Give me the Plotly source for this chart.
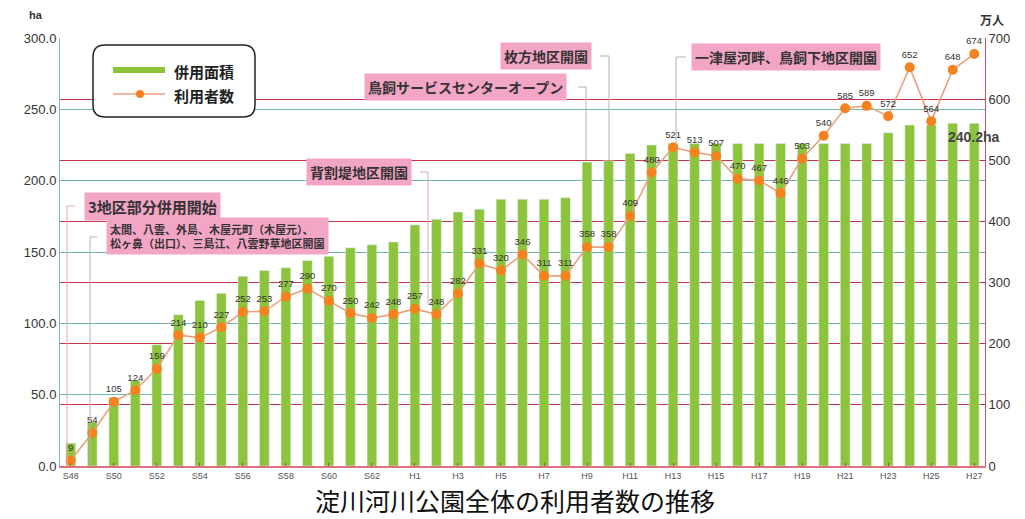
import plotly.graph_objects as go

years = [f"S{n}" for n in range(48, 64)] + [f"H{n}" for n in range(1, 28)]

area_ha = [16, 31, 48, 60, 85, 106, 116, 121, 133, 137, 139, 144, 147, 153, 155, 157,
           169, 173, 178, 180, 187, 187, 187, 188, 213, 214, 219, 225, 226,
           226, 226, 226, 226, 226, 226, 226, 226, 226, 233.6, 239, 239, 240.2, 240.2]

visitors = [9, 54, 105, 124, 159, 214, 210, 227, 252, 253, 277, 290, 270, 250, 242, 248,
            257, 248, 282, 331, 320, 346, 311, 311, 358, 358, 409, 480, 521, 513, 507,
            470, 467, 446, 503, 540, 585, 589, 572, 652, 564, 648, 674]

JP = "Noto Sans CJK JP"
SANS = "Liberation Sans"

# plot area in pixels
L, R, T, B = 60, 985, 38, 466
W, H = 1025, 519


def px(x):
    return (x - L) / (R - L)


def py(y):
    return (B - y) / (B - T)


fig = go.Figure()
fig.add_trace(go.Bar(x=years, y=area_ha, marker_color="#8cc43c", width=0.45,
                     name="併用面積", showlegend=False, yaxis="y"))
fig.add_trace(go.Scatter(x=years, y=visitors, yaxis="y2", mode="lines+markers+text",
                         line=dict(color="#e8a27a", width=1.6),
                         marker=dict(color="#f5821f", size=10),
                         text=[str(v) for v in visitors], textposition="top center",
                         textfont=dict(family=SANS, size=9.5, color="#333"),
                         name="利用者数", showlegend=False, cliponaxis=False))

shapes = []
annotations = []


def note(text, x, y, size, family=JP, color="#222", xanchor="center", **kw):
    annotations.append(dict(xref="paper", yref="paper", x=px(x), y=py(y), text=text,
                            showarrow=False, xanchor=xanchor, yanchor="middle",
                            font=dict(family=family, size=size, color=color), **kw))


def poly(points, color, width=1):
    d = "M " + " L ".join(f"{px(x)},{py(y)}" for x, y in points)
    shapes.append(dict(type="path", xref="paper", yref="paper", path=d,
                       line=dict(color=color, width=width), layer="above"))


def pinkbox(text, cx, cy, size=15):
    note(text, cx, cy, size, color="#333", bgcolor="#f3a5c5", borderpad=3, align="left")


# event callouts
poly([(75, 206), (67, 206), (67, 466)], "#f0a0b8")
poly([(97, 237), (90, 237), (90, 466)], "#b0b0b0")
poly([(420, 172), (428, 172), (428, 305)], "#d8a8b8")
poly([(578, 87), (586, 87), (586, 160)], "#b0b0b0")
poly([(600, 56), (609, 56), (609, 160)], "#b0b0b0")
poly([(686, 57), (676, 57), (676, 143)], "#b0b0b0")

pinkbox("<b>3地区部分併用開始</b>", 152, 206, 15)
pinkbox("<b>太間、八雲、外島、木屋元町（木屋元）、<br>松ヶ鼻（出口）、三島江、八雲野草地区開園</b>", 217, 236, 11)
pinkbox("<b>背割堤地区開園</b>", 359, 172, 14)
pinkbox("<b>鳥飼サービスセンターオープン</b>", 465, 87, 14)
pinkbox("<b>枚方地区開園</b>", 546, 56, 14)
pinkbox("<b>一津屋河畔、鳥飼下地区開園</b>", 786, 57, 14)

# legend box (rounded)
x0, x1, y0, y1, r = 93, 255, 45, 117, 12
rx, ry = r / (R - L), r / (B - T)
X0, X1, Y0, Y1 = px(x0), px(x1), py(y1), py(y0)
path = (f"M {X0+rx},{Y1} L {X1-rx},{Y1} Q {X1},{Y1} {X1},{Y1-ry} "
        f"L {X1},{Y0+ry} Q {X1},{Y0} {X1-rx},{Y0} L {X0+rx},{Y0} "
        f"Q {X0},{Y0} {X0},{Y0+ry} L {X0},{Y1-ry} Q {X0},{Y1} {X0+rx},{Y1} Z")
shapes.append(dict(type="path", xref="paper", yref="paper", path=path,
                   fillcolor="white", line=dict(color="#222", width=1.5), layer="above"))
shapes.append(dict(type="line", xref="paper", yref="paper", x0=px(113), x1=px(165),
                   y0=py(70), y1=py(70), line=dict(color="#8cc43c", width=6), layer="above"))
shapes.append(dict(type="line", xref="paper", yref="paper", x0=px(113), x1=px(165),
                   y0=py(94), y1=py(94), line=dict(color="#e8a27a", width=1.5), layer="above"))
shapes.append(dict(type="circle", xref="paper", yref="paper", x0=px(136), x1=px(144),
                   y0=py(98), y1=py(90), fillcolor="#f5821f", line=dict(width=0), layer="above"))
note("<b>併用面積</b>", 172, 71, 15, xanchor="left")
note("<b>利用者数</b>", 172, 95, 15, xanchor="left")

# axis unit labels
note("<b>ha</b>", 36, 15, 11, family=SANS, color="#333")
note("<b>万人</b>", 992, 19, 12, color="#333")

# last value annotation
annotations.append(dict(x=len(years) - 1, y=area_ha[-1], xref="x", yref="y",
                        text=f"<b>{area_ha[-1]}ha</b>", showarrow=False, yanchor="top",
                        xanchor="center", yshift=-4,
                        font=dict(family=SANS, size=14, color="#444")))
# title
note("淀川河川公園全体の利用者数の推移", 515, 500, 25, color="#111")

fig.update_layout(
    width=W, height=H,
    margin=dict(l=L, r=W - R, t=T, b=H - B),
    plot_bgcolor="white", paper_bgcolor="white",
    bargap=0.5,
    shapes=shapes, annotations=annotations,
    xaxis=dict(type="category", tickmode="linear", dtick=2,
               tickfont=dict(family=SANS, size=9, color="#555"),
               showline=True, linecolor="#e07080", linewidth=1.5,
               ticks="inside", ticklen=3, tickcolor="#c04060",
               showgrid=False, range=[-0.5, len(years) - 0.5]),
    yaxis=dict(range=[0, 300], dtick=50, tickformat=".1f",
               tickfont=dict(family=SANS, size=13, color="#333"),
               showgrid=True, gridcolor="#6fb5b2", gridwidth=1,
               showline=True, linecolor="#7fb8b5", zeroline=False),
    yaxis2=dict(range=[0, 700], dtick=100, overlaying="y", side="right",
                tickfont=dict(family=SANS, size=13, color="#333"),
                showgrid=True, gridcolor="#c8364e", gridwidth=1,
                showline=True, linecolor="#d05060", zeroline=False),
    font=dict(family=JP),
)

fig.write_html("out.html")
